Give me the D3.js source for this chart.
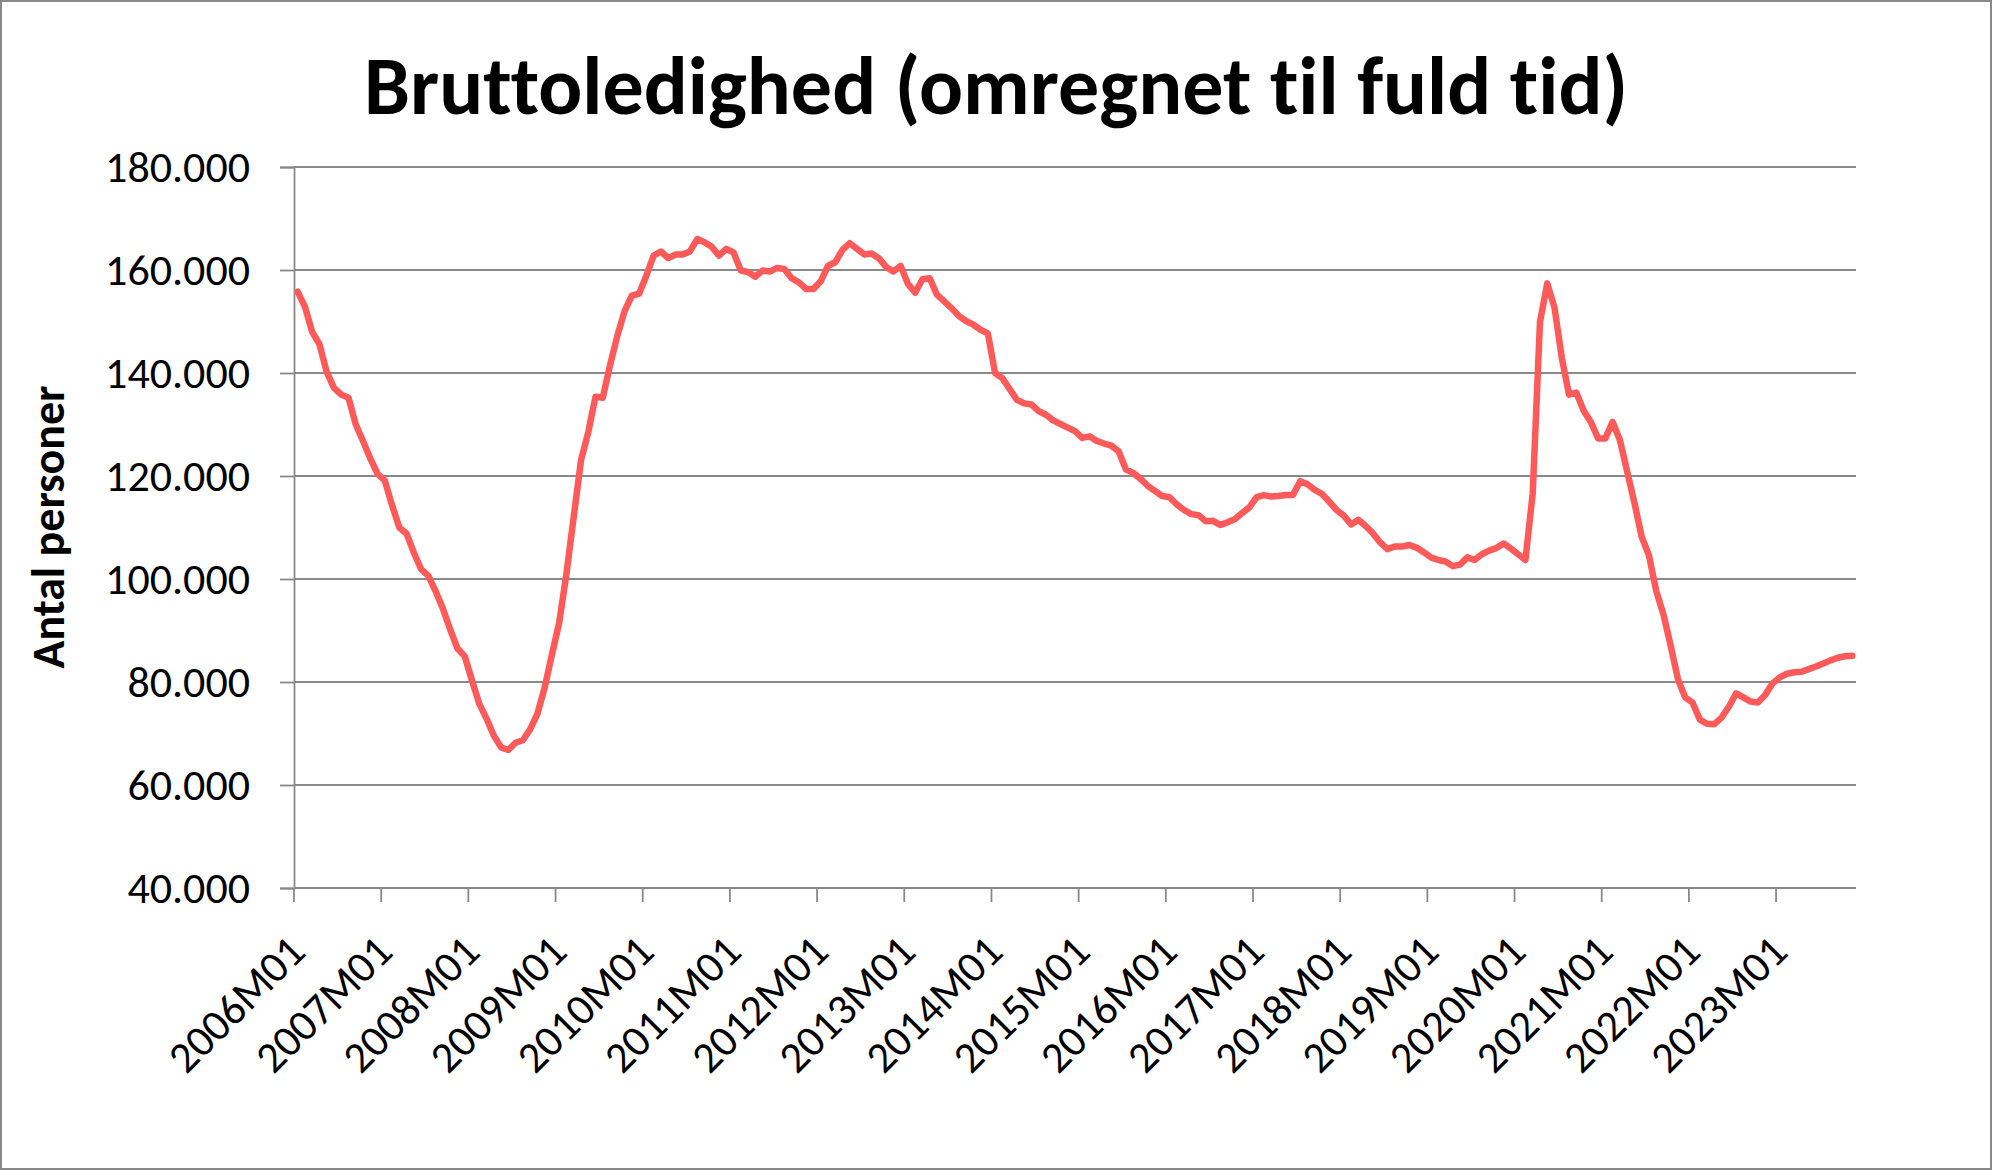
<!DOCTYPE html>
<html>
<head>
<meta charset="utf-8">
<script src="https://cdn.jsdelivr.net/npm/d3@7"></script>
<style>
  html, body { margin: 0; padding: 0; background: #fff; }
  svg { display: block; font-family: Carlito, Calibri, Lato, sans-serif; font-variant-ligatures: none; font-feature-settings: "liga" 0; }
</style>
</head>
<body>
<svg id="chart" width="1993" height="1171"></svg>
<script>
// Bruttoledighed, omregnet til fuld tid, månedlig 2006M01 - 2023M11
const titleText = 'Bruttoledighed (omregnet til fuld tid)';
const yTitle = 'Antal personer';
const firstYear = 2006;

const persons = [
  155800, 152900, 148000, 145600, 140200, 137100, 135800, 135200, 130000, 126800, 123400, 120400,
  119100, 114300, 110000, 108800, 105100, 101900, 100600, 97600, 94200, 90200, 86500, 85000,
  80300, 75800, 72900, 69600, 67300, 66800, 68200, 68700, 70800, 73800, 78900, 85300,
  91500, 101000, 112000, 123000, 128500, 135400, 135200, 141500, 147200, 152000, 155000, 155400,
  158900, 162800, 163600, 162300, 163000, 163000, 163600, 166000, 165400, 164500, 162800, 164100,
  163400, 159900, 159600, 158700, 159900, 159700, 160400, 160200, 158400, 157600, 156300, 156300,
  157800, 160800, 161500, 163900, 165200, 164100, 163000, 163200, 162300, 160600, 159700, 160800,
  157300, 155600, 158200, 158400, 155200, 153900, 152600, 151100, 150100, 149400, 148400, 147700,
  140000, 139000, 136900, 134800, 134100, 133900, 132600, 131900, 130800, 130100, 129400, 128700,
  127400, 127700, 126800, 126300, 125900, 124800, 121300, 120600, 119500, 118100, 117100, 116100,
  115900, 114500, 113400, 112600, 112400, 111200, 111300, 110500, 111000, 111600, 112800, 113900,
  115900, 116300, 116000, 116100, 116300, 116300, 119000, 118400, 117300, 116500, 115000, 113400,
  112300, 110600, 111500, 110300, 108900, 107100, 105800, 106300, 106300, 106600, 106100, 105200,
  104200, 103700, 103400, 102500, 102800, 104200, 103700, 104800, 105500, 106000, 106900, 105900,
  104800, 103700, 116600, 149900, 157400, 152700, 143000, 135800, 136200, 132700, 130500, 127300,
  127300, 130500, 127000, 120900, 114800, 108200, 104600, 97700, 93100, 87000, 80500, 77000,
  76000, 72700, 71900, 71800, 73100, 75200, 77800, 77000, 76200, 76000, 77500, 79700,
  80900, 81600, 81900, 82000, 82500, 83000, 83600, 84200, 84700, 85000, 85100
];

const yTicks = [40000, 60000, 80000, 100000, 120000, 140000, 160000, 180000];
const xTickLabels = ['2006M01', '2007M01', '2008M01', '2009M01', '2010M01', '2011M01',
  '2012M01', '2013M01', '2014M01', '2015M01', '2016M01', '2017M01', '2018M01',
  '2019M01', '2020M01', '2021M01', '2022M01', '2023M01'];

const months = persons.map((_, i) =>
  `${firstYear + Math.floor(i / 12)}M${String(i % 12 + 1).padStart(2, '0')}`);

const W = 1993, H = 1171;
const plot = {left: 294, right: 1856, top: 167, bottom: 888};
const gridColor = '#898989';
const lineColor = '#ff5a5a';
const tickFont = 44;

const svg = d3.select('#chart');

svg.append('rect')
  .attr('x', 1).attr('y', 1).attr('width', W - 3).attr('height', H - 3)
  .attr('fill', '#fff').attr('stroke', gridColor).attr('stroke-width', 2);

const x = d3.scaleBand().domain(months).range([plot.left, plot.right]).padding(0);
const y = d3.scaleLinear().domain([40000, 180000]).range([plot.bottom, plot.top]);
const fmt = d3.formatLocale({decimal: ',', thousands: '.', grouping: [3], currency: ['', '']}).format(',');

// gridlines
svg.append('g').selectAll('line')
  .data(yTicks.filter(v => v > 40000))
  .join('line')
  .attr('x1', plot.left).attr('x2', plot.right)
  .attr('y1', d => y(d)).attr('y2', d => y(d))
  .attr('stroke', gridColor).attr('stroke-width', 1.8);

// y axis
const yAxis = svg.append('g')
  .attr('transform', `translate(${plot.left},0)`)
  .call(d3.axisLeft(y).tickValues(yTicks).tickFormat(fmt).tickSize(14).tickPadding(30))
  .attr('font-family', null)
  .attr('font-size', null);
yAxis.select('.domain').attr('stroke', gridColor).attr('stroke-width', 1.8);
yAxis.selectAll('.tick line').attr('stroke', gridColor).attr('stroke-width', 1.8);
yAxis.selectAll('.tick text')
  .attr('fill', '#000').attr('font-size', tickFont)
  .attr('dy', '0.32em');

// x axis
const xAxis = svg.append('g');
xAxis.append('line')
  .attr('x1', plot.left).attr('x2', plot.right)
  .attr('y1', plot.bottom).attr('y2', plot.bottom)
  .attr('stroke', gridColor).attr('stroke-width', 1.8);
xAxis.selectAll('line.tick')
  .data(xTickLabels)
  .join('line')
  .attr('class', 'tick')
  .attr('x1', d => x(d)).attr('x2', d => x(d))
  .attr('y1', plot.bottom).attr('y2', plot.bottom + 14)
  .attr('stroke', gridColor).attr('stroke-width', 1.8);
xAxis.selectAll('text')
  .data(xTickLabels)
  .join('text')
  .attr('transform', d => `translate(${x(d) + x.bandwidth() / 2},${plot.bottom + 56}) rotate(-45)`)
  .attr('text-anchor', 'end')
  .attr('dy', '0.32em')
  .attr('font-size', tickFont)
  .text(d => d);

// series
const line = d3.line()
  .x((d, i) => x(months[i]) + x.bandwidth() / 2)
  .y(d => y(d));

svg.append('path')
  .datum(persons)
  .attr('d', line)
  .attr('fill', 'none')
  .attr('stroke', lineColor)
  .attr('stroke-width', 6.5)
  .attr('stroke-linejoin', 'round')
  .attr('stroke-linecap', 'round');

// title
const title = svg.append('text')
  .attr('x', 996).attr('y', 114)
  .attr('text-anchor', 'middle')
  .attr('font-weight', 'bold')
  .attr('font-size', 80)
  .text(titleText);
const tw = title.node().getComputedTextLength();
title.attr('font-size', 80 * 1264 / tw);

// y title
const yt = svg.append('text')
  .attr('transform', 'translate(64,527) rotate(-90)')
  .attr('text-anchor', 'middle')
  .attr('font-weight', 'bold')
  .attr('font-size', 45)
  .text(yTitle);
const yw = yt.node().getComputedTextLength();
yt.attr('font-size', 45 * 283 / yw);
</script>
</body>
</html>
